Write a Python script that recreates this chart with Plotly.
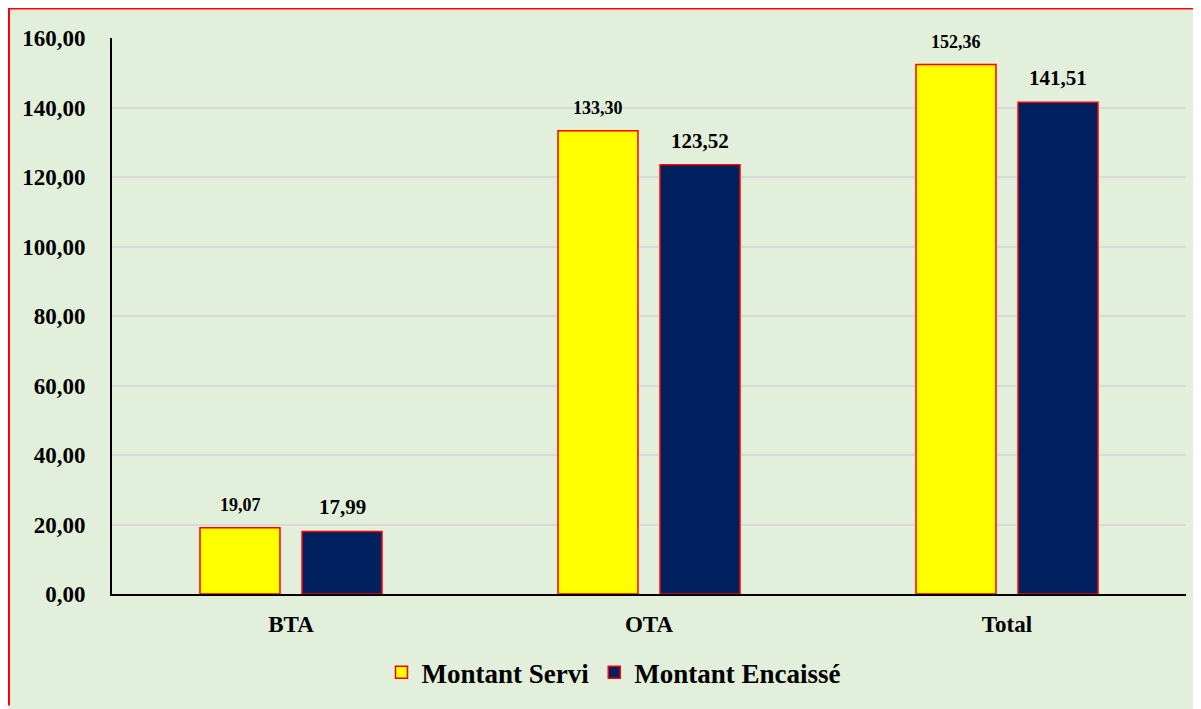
import plotly.graph_objects as go

categories = ["BTA", "OTA", "Total"]
servi = [19.07, 133.30, 152.36]
encaisse = [17.99, 123.52, 141.51]
series_names = ["Montant Servi", "Montant Encaissé"]
tick_vals = [0, 20, 40, 60, 80, 100, 120, 140, 160]
tick_text = ["0,00", "20,00", "40,00", "60,00", "80,00", "100,00", "120,00", "140,00", "160,00"]

FONT = "Liberation Serif"
# page body has an 8px margin; figure coordinates = screen - 8
W, H = 1193, 701
L, R, T, B = 104, 15, 30, 112

fig = go.Figure()
fig.add_trace(go.Bar(name=series_names[0], x=categories, y=servi,
                     marker=dict(color="#FFFF00", line=dict(color="#FF0000", width=1.5))))
fig.add_trace(go.Bar(name=series_names[1], x=categories, y=encaisse,
                     marker=dict(color="#002060", line=dict(color="#FF0000", width=1.5))))

annotations = []
for c, v in zip(categories, servi):
    annotations.append(dict(x=c, y=v, xref="x", yref="y", xshift=-51, yshift=11,
                            yanchor="bottom", showarrow=False,
                            text=f"{v:.2f}".replace(".", ","),
                            font=dict(family=FONT, size=18, color="black", weight="bold")))
for c, v in zip(categories, encaisse):
    annotations.append(dict(x=c, y=v, xref="x", yref="y", xshift=51, yshift=10,
                            yanchor="bottom", showarrow=False,
                            text=f"{v:.2f}".replace(".", ","),
                            font=dict(family=FONT, size=21, color="black", weight="bold")))

pw = W - L - R
ph = H - T - B
def px_x(p):
    return (p - L) / pw
def px_y(p):
    return 1 - (p - T) / ph

shapes = [
    dict(type="line", xref="paper", yref="paper", x0=px_x(0), x1=px_x(W), y0=px_y(0.5), y1=px_y(0.5),
         line=dict(color="#FF0000", width=1.5)),
    dict(type="line", xref="paper", yref="paper", x0=px_x(1), x1=px_x(1), y0=px_y(0), y1=px_y(H),
         line=dict(color="#FF0000", width=2)),
]

fig.update_layout(
    width=W, height=H,
    margin=dict(l=L, r=R, t=T, b=B),
    paper_bgcolor="#E2EFDA", plot_bgcolor="#E2EFDA",
    barmode="group", bargap=0.43, bargroupgap=0.216,
    showlegend=True,
    legend=dict(orientation="h", x=px_x(606), xanchor="center", y=px_y(668), yanchor="middle",
                font=dict(family=FONT, size=27, color="black", weight="bold"),
                bgcolor="rgba(0,0,0,0)", traceorder="normal"),
    annotations=annotations,
    shapes=shapes,
    xaxis=dict(showline=True, linecolor="black", linewidth=2, ticks="",
               tickfont=dict(family=FONT, size=23, color="black", weight="bold"),
               ticklabelstandoff=8),
    yaxis=dict(range=[0, 160], tickvals=tick_vals, ticktext=tick_text,
               showline=True, linecolor="black", linewidth=2,
               showgrid=True, gridcolor="#D9D9D9", gridwidth=1.5,
               zeroline=False, ticks="",
               tickfont=dict(family=FONT, size=23, color="black", weight="bold"),
               ticklabelstandoff=20),
)

fig.write_html("out.html")
